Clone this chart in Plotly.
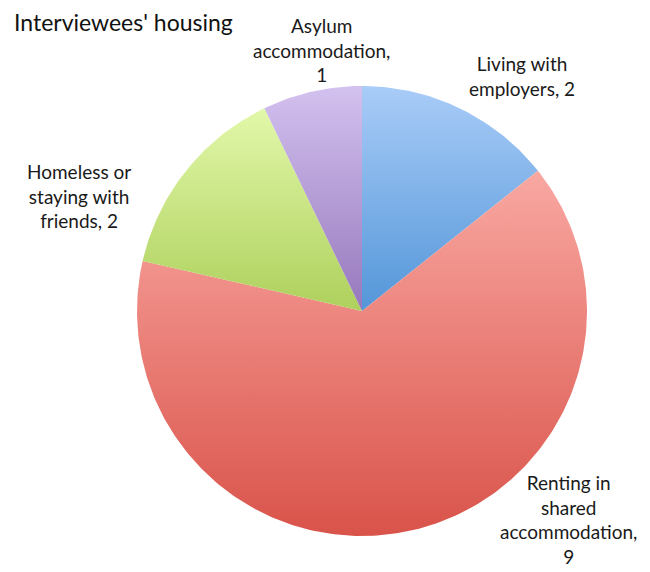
import numpy as np
import plotly.graph_objects as go

# Interviewees' housing situation (number of interviewees)
categories = ["Living with employers", "Renting in shared accommodation",
              "Homeless or staying with friends", "Asylum accommodation"]
label_text = ["Living with<br>employers", "Renting in<br>shared<br>accommodation",
              "Homeless or<br>staying with<br>friends", "Asylum<br>accommodation"]
counts = [2, 9, 2, 1]

# vertical gradient per slice: (bottom colour, top colour)
gradients = [("#5396d8", "#a9ccf8"),
             ("#d9534a", "#f9a8a2"),
             ("#aed05c", "#e2f8aa"),
             ("#9678bc", "#d3c1ef")]

# label block centres in pixels (x, y from top) and their line breaks in the value
label_pos = [(522, 76), (568, 519), (79, 196), (321, 50)]
value_sep = ["", "<br>", "", "<br>"]

W, H = 650, 572
CX, CY, R = 362, 311, 225          # pie centre and radius in pixels

fig = go.Figure()

total = float(sum(counts))
start = 0.0
for cat, n, (c_lo, c_hi) in zip(categories, counts, gradients):
    sweep = n / total * 2 * np.pi
    # angles measured clockwise from 12 o'clock
    th = np.linspace(start, start + sweep, max(int(sweep / (2 * np.pi) * 400), 8))
    xs = np.concatenate([[0.0], np.sin(th), [0.0]])
    ys = np.concatenate([[0.0], np.cos(th), [0.0]])
    fig.add_trace(go.Scatter(
        x=xs, y=ys, mode="lines", fill="toself",
        line=dict(width=0, color=c_lo),
        fillgradient=dict(type="vertical",
                          colorscale=[[0, c_lo], [1, c_hi]]),
        name=cat, hoverinfo="name", showlegend=False,
    ))
    start += sweep

for txt, n, sep, (px, py) in zip(label_text, counts, value_sep, label_pos):
    fig.add_annotation(
        x=px / W, y=1 - py / H, xref="paper", yref="paper",
        text=f"{txt},{sep}{' ' if not sep else ''}{n}",
        showarrow=False, xanchor="center", yanchor="middle", align="center",
        font=dict(family="Lato, 'Open Sans', sans-serif", size=19, color="#1a1a1a"),
    )

fig.add_annotation(
    x=12 / W, y=1 - 22 / H, xref="paper", yref="paper",
    text="Interviewees' housing", showarrow=False,
    xanchor="left", yanchor="middle",
    font=dict(family="Lato, 'Open Sans', sans-serif", size=23, color="#111111"),
)

fig.update_layout(
    width=W, height=H,
    margin=dict(l=0, r=0, t=0, b=0),
    paper_bgcolor="white", plot_bgcolor="white",
    xaxis=dict(range=[-CX / R, (W - CX) / R], visible=False, fixedrange=True),
    yaxis=dict(range=[-(H - CY) / R, CY / R], visible=False, fixedrange=True),
    showlegend=False,
)

fig.write_html("out.html")
